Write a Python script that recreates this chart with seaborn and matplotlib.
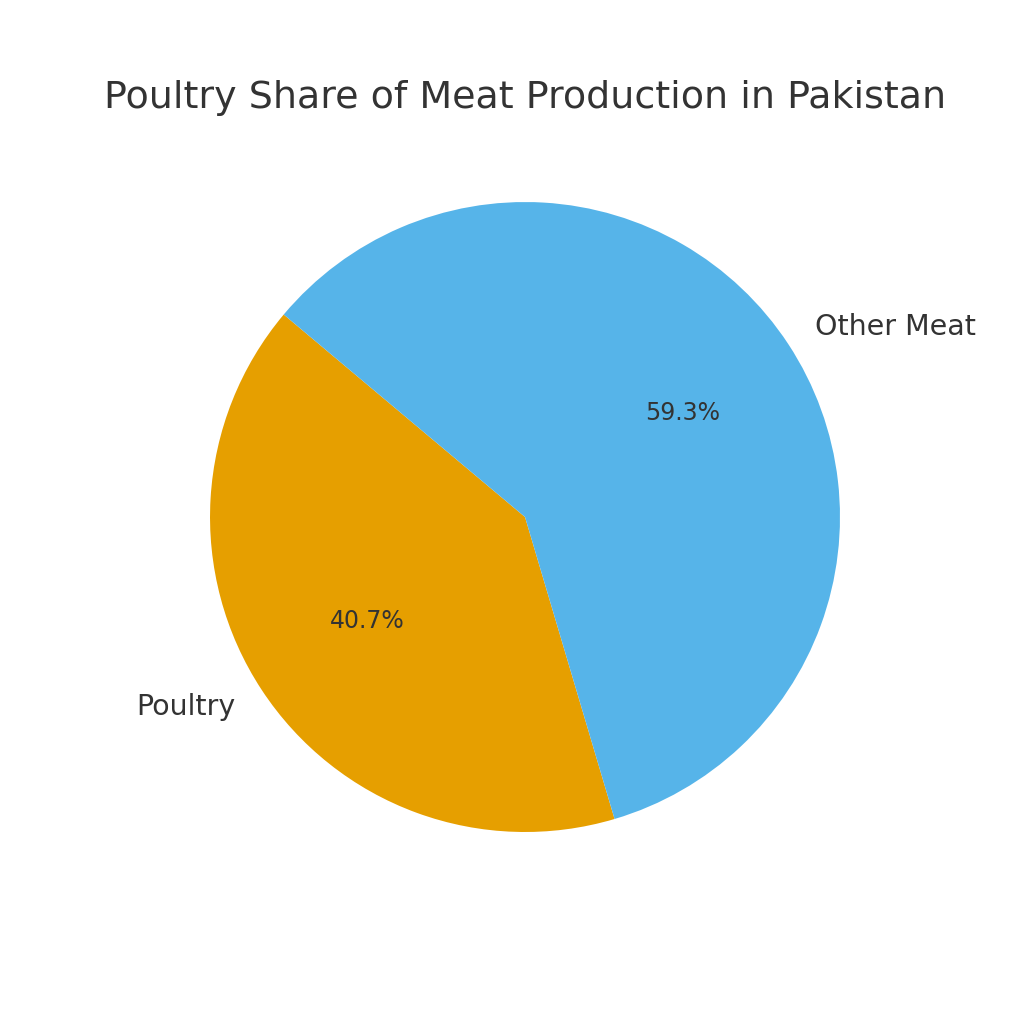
import matplotlib
matplotlib.use("Agg")
import matplotlib.pyplot as plt
import seaborn as sns

categories = ["Poultry", "Other Meat"]
shares = [40.7, 59.3]
colors = ["#E69F00", "#56B4E9"]

sns.set_theme(style="white")
plt.rcParams['font.family'] = ['DejaVu Sans']
text_color = "#333333"

fig = plt.figure(figsize=(10.24, 10.24), dpi=100)
ax = fig.add_axes([0.1282, 0.1106, 0.769, 0.769])
wedges, texts, autotexts = ax.pie(
    shares, labels=categories, colors=colors, autopct="%1.1f%%",
    startangle=140,
    wedgeprops={"linewidth": 0},
    textprops={"color": text_color, "fontsize": 20.5},
)
for t in autotexts:
    t.set_fontsize(17)
    t.set_color(text_color)
ax.set_xlim(-1.25, 1.25)
ax.set_ylim(-1.25, 1.25)
ax.set_aspect("equal")
ax.set_title("Poultry Share of Meat Production in Pakistan", fontsize=27.4, color=text_color, pad=11)
fig.savefig("out.png", dpi=100)
